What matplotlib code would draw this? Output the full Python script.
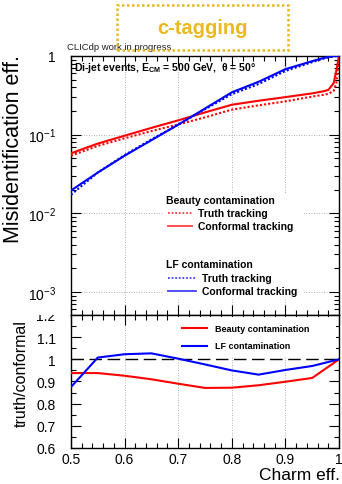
#!/usr/bin/env python3
"""c-tagging misidentification efficiency, truth vs conformal tracking."""

import matplotlib
matplotlib.use('Agg')
import matplotlib.pyplot as plt
import matplotlib.patches as patches
from matplotlib.transforms import Bbox, TransformedBbox
from matplotlib.ticker import FixedLocator, MultipleLocator, LogLocator, NullFormatter, FuncFormatter

plt.rcParams['font.family'] = ['Liberation Sans', 'DejaVu Sans']
plt.rcParams['mathtext.fontset'] = 'custom'
plt.rcParams['mathtext.rm'] = 'Liberation Sans'
plt.rcParams['mathtext.it'] = 'Liberation Sans:italic'
plt.rcParams['mathtext.bf'] = 'Liberation Sans:bold'

# charm efficiency working points for the efficiency curves
charm_eff = [0.5, 0.55, 0.6, 0.65, 0.7, 0.75, 0.8, 0.85, 0.9, 0.95, 0.97, 0.98, 0.99, 0.995, 1.0]
beauty_conformal = [0.058, 0.077, 0.097, 0.122, 0.152, 0.192, 0.24, 0.27, 0.30, 0.335, 0.355, 0.37, 0.45, 0.65, 1.0]
beauty_truth = [0.054, 0.072, 0.090, 0.111, 0.135, 0.166, 0.208, 0.236, 0.265, 0.305, 0.32, 0.33, 0.36, 0.45, 1.0]
lf_conformal = [0.0195, 0.033, 0.054, 0.085, 0.134, 0.215, 0.345, 0.47, 0.68, 0.86, 0.94, 0.97, 1.0, 1.0, 1.0]
lf_truth = [0.0172, 0.033, 0.055, 0.087, 0.134, 0.21, 0.327, 0.44, 0.645, 0.835, 0.92, 0.96, 0.99, 1.0, 1.0]

# ratio panel, sampled in steps of 0.05
ratio_x = [0.5, 0.55, 0.6, 0.65, 0.7, 0.75, 0.8, 0.85, 0.9, 0.95, 1.0]
beauty_ratio = [0.938, 0.938, 0.926, 0.910, 0.890, 0.871, 0.872, 0.883, 0.899, 0.916, 1.0]
lf_ratio = [0.875, 1.008, 1.023, 1.027, 1.003, 0.977, 0.950, 0.931, 0.952, 0.970, 1.0]

top_yticks = [1e-3, 1e-2, 1e-1, 1]
top_yticklabels = [r'$10^{-3}$', r'$10^{-2}$', r'$10^{-1}$', '1']

RED = '#ff0000'
BLUE = '#0000ff'
GOLD = '#ebb81e'
W, H = 342, 485

fig = plt.figure(figsize=(W / 100, H / 100), dpi=100)
fig.patch.set_facecolor('white')


def px_axes(x0, y0, x1, y1):
    return fig.add_axes([x0 / W, 1 - y1 / H, (x1 - x0) / W, (y1 - y0) / H])


ax = px_axes(71, 57, 339, 316)
axr = px_axes(71, 316, 339, 449)

grid_kw = dict(color='#999999', linestyle=(0, (1, 2)), linewidth=0.6)

# top panel: misidentification efficiency
ax.set_yscale('log')
ax.set_xlim(0.5, 1.0)
ax.set_ylim(5.1e-4, 1)
for x in [0.6, 0.7, 0.8, 0.9]:
    ax.axvline(x, zorder=0, **grid_kw)
for y in [1e-3, 1e-2, 1e-1]:
    ax.axhline(y, zorder=0, **grid_kw)

ax.plot(charm_eff, beauty_truth, color=RED, lw=1.5, ls=(0, (1, 1)), zorder=3)
ax.plot(charm_eff, beauty_conformal, color=RED, lw=1.5, zorder=3)
ax.plot(charm_eff, lf_truth, color=BLUE, lw=1.5, ls=(0, (1, 1)), zorder=3)
ax.plot(charm_eff, lf_conformal, color=BLUE, lw=1.5, zorder=3)

ax.yaxis.set_major_locator(FixedLocator(top_yticks))
ax.set_yticklabels(top_yticklabels, fontsize=10)
ax.yaxis.set_minor_locator(LogLocator(base=10, subs=range(2, 10), numticks=20))
ax.yaxis.set_minor_formatter(NullFormatter())
ax.xaxis.set_major_locator(MultipleLocator(0.1))
ax.xaxis.set_minor_locator(MultipleLocator(0.02))
ax.tick_params(axis='x', labelbottom=False)
ax.tick_params(which='both', direction='in', top=True, right=True, width=0.8)
ax.tick_params(which='major', length=7)
ax.tick_params(which='minor', length=3.5)
ax.tick_params(axis='y', pad=11)

ax.text(0.01, 0.958, r'Di-jet events, $\mathbf{E}_{\mathbf{CM}}$ = 500 GeV,  θ = 50°',
        transform=ax.transAxes, fontsize=7.5, fontweight='bold', va='center', ha='left')

# legend for the efficiency curves, on a white panel
bx0, by0, bx1, by1 = 163, 195, 303, 299
ax.add_patch(patches.Rectangle(((bx0 - 71) / 268, 1 - (by1 - 57) / 259),
                               (bx1 - bx0) / 268, (by1 - by0) / 259,
                               transform=ax.transAxes, facecolor='white',
                               edgecolor='none', zorder=2))


def leg_y(py):
    return 1 - (py - 57) / 259


def leg_x(px):
    return (px - 71) / 268


entries = [
    (201, 'Beauty contamination', None, None, 166),
    (214, 'Truth tracking', RED, (0, (1, 1)), 198),
    (227, 'Conformal tracking', RED, '-', 198),
    (265, 'LF contamination', None, None, 166),
    (279, 'Truth tracking', BLUE, (0, (1, 1)), 202),
    (292, 'Conformal tracking', BLUE, '-', 202),
]
for py, label, col, ls, tx in entries:
    if col is not None:
        ax.plot([leg_x(168), leg_x(tx - 6)], [leg_y(py)] * 2, color=col, ls=ls,
                lw=1.3, alpha=0.75, transform=ax.transAxes, zorder=4)
    ax.text(leg_x(tx), leg_y(py), label, transform=ax.transAxes, fontsize=7.5,
            fontweight='bold', va='center', ha='left', zorder=4)

# bottom panel: ratio truth / conformal
axr.set_xlim(0.5, 1.0)
axr.set_ylim(0.6, 1.2)
for x in [0.6, 0.7, 0.8, 0.9]:
    axr.axvline(x, zorder=0, **grid_kw)
axr.axhline(1.0, color='black', lw=1.0, ls=(0, (9, 4)), zorder=1)
axr.plot(ratio_x, beauty_ratio, color=RED, lw=1.5, zorder=3)
axr.plot(ratio_x, lf_ratio, color=BLUE, lw=1.5, zorder=3)

axr.add_patch(patches.Rectangle(((176 - 71) / 268, 1 - (357 - 316) / 133),
                                (336 - 176) / 268, (357 - 318) / 133,
                                transform=axr.transAxes, facecolor='white',
                                edgecolor='none', zorder=2))
for py, label, col in [(329, 'Beauty contamination', RED), (347, 'LF contamination', BLUE)]:
    yy = 1 - (py - 316) / 133
    axr.plot([(182 - 71) / 268, (207 - 71) / 268], [yy, yy], color=col, lw=1.5,
             transform=axr.transAxes, zorder=4)
    axr.text((215 - 71) / 268, yy, label, transform=axr.transAxes, fontsize=6.5,
             fontweight='bold', va='center', ha='left', zorder=4)

fmt = FuncFormatter(lambda v, p: '%g' % round(v, 2))
axr.xaxis.set_major_locator(MultipleLocator(0.1))
axr.xaxis.set_minor_locator(MultipleLocator(0.02))
axr.yaxis.set_major_locator(MultipleLocator(0.1))
axr.yaxis.set_minor_locator(MultipleLocator(0.05))
axr.xaxis.set_major_formatter(fmt)
axr.yaxis.set_major_formatter(fmt)
axr.tick_params(which='both', direction='in', top=True, right=True, width=0.8, labelsize=10)
axr.tick_params(which='major', length=7)
axr.tick_params(which='minor', length=3.5)
axr.tick_params(axis='x', pad=3)
axr.tick_params(axis='y', pad=11)

# the lower pad cuts off whatever sticks out above it
pad_clip = TransformedBbox(Bbox([[0, 0], [1, 1 - 316 / H]]), fig.transFigure)
for tick in axr.yaxis.get_major_ticks():
    tick.label1.set_clip_box(pad_clip)
    tick.label1.set_clip_on(True)

for a in (ax, axr):
    for s in a.spines.values():
        s.set_linewidth(1.0)

# axis titles placed like the ROOT pads
fig.text(14 / W, 1 - 149 / H, 'Misidentification eff.', fontsize=15.5,
         rotation=90, ha='center', va='center')
fig.text(21 / W, 1 - 374 / H, 'truth/conformal', fontsize=11.5,
         rotation=90, ha='center', va='center')
fig.text(340 / W, 1 - 476 / H, 'Charm eff.', fontsize=12.5, ha='right', va='center')

# header: tagging label in a dotted box and status line
fig.patches.append(patches.Rectangle((117 / W, 1 - 51 / H), (288 - 117) / W, 45 / H,
                                     transform=fig.transFigure, fill=False,
                                     edgecolor=GOLD, lw=1.8, ls=(0, (1, 1)), zorder=5))
fig.text(202 / W, 1 - 29 / H, 'c-tagging', color=GOLD, fontsize=14.5,
         fontweight='bold', ha='center', va='center')
fig.text(67 / W, 1 - 47 / H, 'CLICdp work in progress', fontsize=6.8,
         color='#222222', ha='left', va='center')

fig.savefig('out.png', dpi=100, facecolor='white')
